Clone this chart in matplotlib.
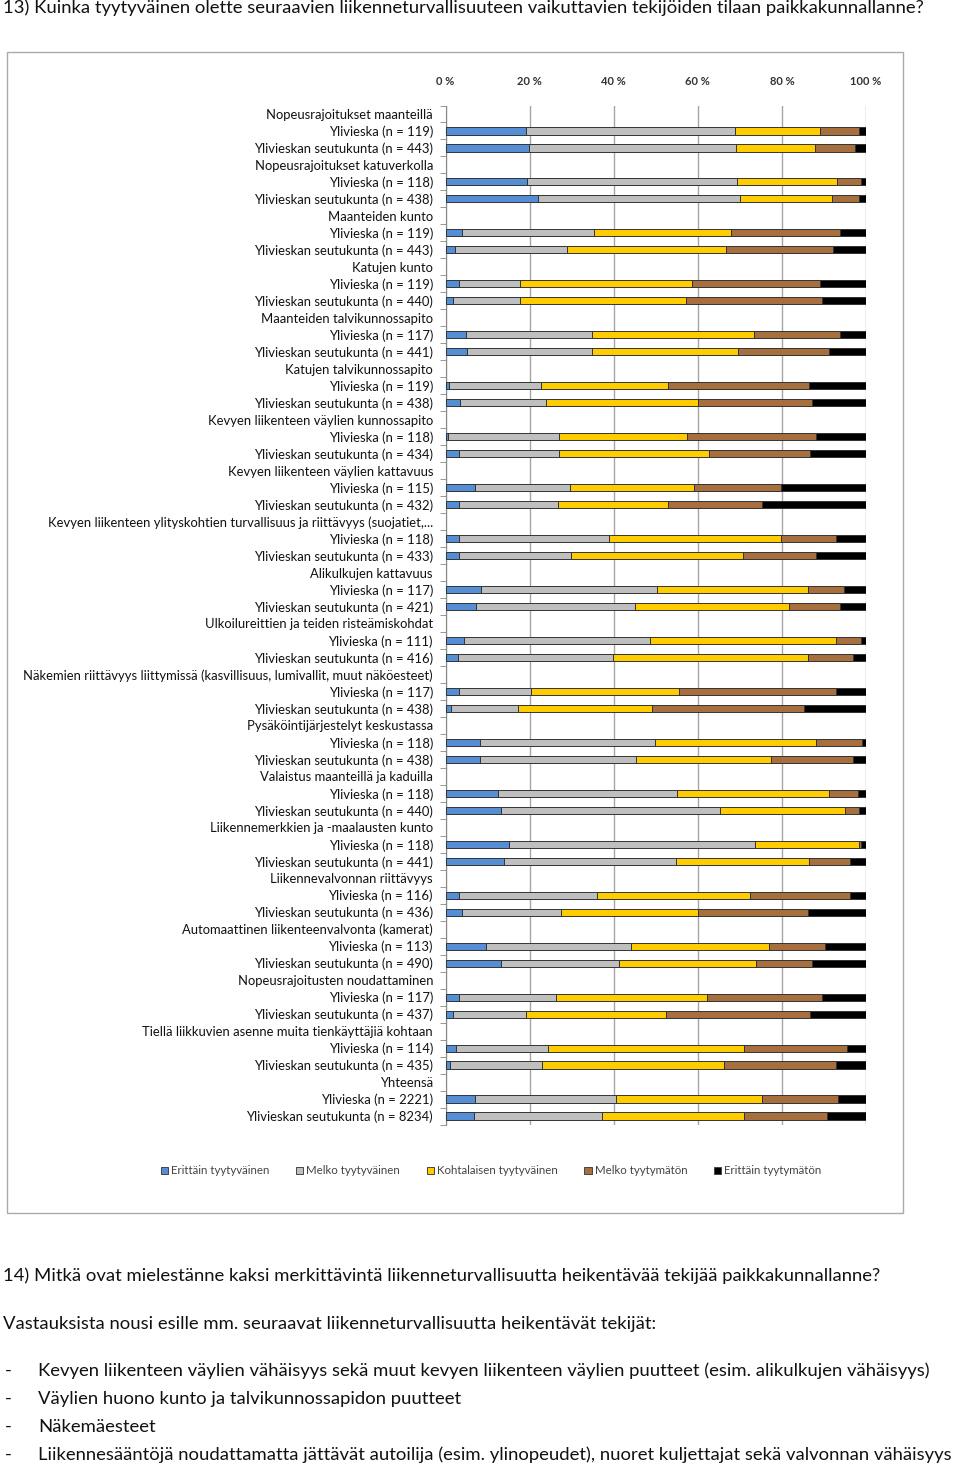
import numpy as np
import matplotlib
matplotlib.use('Agg')
import matplotlib.pyplot as plt
from matplotlib.patches import Patch, Rectangle

plt.rcParams['font.family'] = ['Lato', 'DejaVu Sans']

categories = [
    'Nopeusrajoitukset maanteillä',
    'Nopeusrajoitukset katuverkolla',
    'Maanteiden kunto',
    'Katujen kunto',
    'Maanteiden talvikunnossapito',
    'Katujen talvikunnossapito',
    'Kevyen liikenteen väylien kunnossapito',
    'Kevyen liikenteen väylien kattavuus',
    'Kevyen liikenteen ylityskohtien turvallisuus ja riittävyys (suojatiet,...',
    'Alikulkujen kattavuus',
    'Ulkoilureittien ja teiden risteämiskohdat',
    'Näkemien riittävyys liittymissä (kasvillisuus, lumivallit, muut näköesteet)',
    'Pysäköintijärjestelyt keskustassa',
    'Valaistus maanteillä ja kaduilla',
    'Liikennemerkkien ja -maalausten kunto',
    'Liikennevalvonnan riittävyys',
    'Automaattinen liikenteenvalvonta (kamerat)',
    'Nopeusrajoitusten noudattaminen',
    'Tiellä liikkuvien asenne muita tienkäyttäjiä kohtaan',
    'Yhteensä',
]
n_ylivieska = [119, 118, 119, 119, 117, 119, 118, 115, 118, 117,
               111, 117, 118, 118, 118, 116, 113, 117, 114, 2221]
n_seutukunta = [443, 438, 443, 440, 441, 438, 434, 432, 433, 421,
                416, 438, 438, 440, 441, 436, 490, 437, 435, 8234]

series_names = ['Erittäin tyytyväinen', 'Melko tyytyväinen', 'Kohtalaisen tyytyväinen',
                'Melko tyytymätön', 'Erittäin tyytymätön']
colors = ['#558ED5', '#BFBFBF', '#FFCC00', '#A86F3E', '#000000']

# Ylivieska, % per category
erittain_tyyt_yv = [19.2, 19.4, 4.0, 3.1, 4.9, 0.8, 0.7, 6.9, 3.3, 8.5,
                    4.3, 3.3, 8.3, 12.6, 15.0, 3.3, 9.6, 3.3, 2.5, 7.1]
melko_tyyt_yv = [49.6, 50.0, 31.3, 14.5, 29.9, 21.8, 26.3, 22.7, 35.5, 41.8,
                 44.3, 17.1, 41.6, 42.4, 58.7, 32.8, 34.6, 23.0, 21.9, 33.5]
kohtalainen_yv = [20.2, 23.8, 32.7, 41.1, 38.5, 30.4, 30.5, 29.5, 40.9, 36.0,
                  44.2, 35.2, 38.1, 36.3, 24.6, 36.2, 32.8, 36.0, 46.6, 34.6]
melko_tyytym_yv = [9.3, 5.7, 25.9, 30.3, 20.4, 33.4, 30.6, 20.7, 13.2, 8.5,
                   6.1, 37.3, 11.0, 6.8, 0.5, 24.0, 13.2, 27.3, 24.6, 18.2]
erittain_tyytym_yv = [1.7, 1.1, 6.1, 11.0, 6.3, 13.6, 11.9, 20.2, 7.1, 5.2,
                      1.1, 7.1, 1.0, 1.9, 1.2, 3.7, 9.8, 10.4, 4.4, 6.6]

# Ylivieskan seutukunta, % per category
erittain_tyyt_sk = [19.9, 22.1, 2.3, 1.9, 5.2, 3.5, 3.1, 3.3, 3.1, 7.2,
                    2.9, 1.2, 8.1, 13.1, 14.0, 4.0, 13.3, 1.7, 1.1, 6.8]
melko_tyyt_sk = [49.3, 47.9, 26.7, 15.7, 29.6, 20.3, 24.0, 23.4, 26.8, 37.8,
                 36.9, 16.1, 37.3, 52.1, 40.9, 23.4, 27.9, 17.5, 21.8, 30.5]
kohtalainen_sk = [18.6, 22.0, 37.7, 39.7, 34.8, 36.3, 35.6, 26.3, 40.9, 36.7,
                  46.5, 31.9, 32.1, 29.9, 31.6, 32.7, 32.7, 33.3, 43.3, 33.7]
melko_tyytym_sk = [9.7, 6.3, 25.4, 32.3, 21.6, 27.0, 23.9, 22.3, 17.3, 12.2,
                   10.6, 36.0, 19.4, 3.2, 9.8, 26.2, 13.3, 34.1, 26.7, 19.7]
erittain_tyytym_sk = [2.5, 1.7, 7.9, 10.4, 8.8, 12.9, 13.4, 24.7, 11.9, 6.1,
                      3.1, 14.8, 3.1, 1.7, 3.7, 13.7, 12.8, 13.4, 7.1, 9.3]

xticklabels = ['0 %', '20 %', '40 %', '60 %', '80 %', '100 %']

yv = [erittain_tyyt_yv, melko_tyyt_yv, kohtalainen_yv, melko_tyytym_yv, erittain_tyytym_yv]
sk = [erittain_tyyt_sk, melko_tyyt_sk, kohtalainen_sk, melko_tyytym_sk, erittain_tyytym_sk]

# rows: header, Ylivieska, seutukunta for every category
labels = []
for c, a, b in zip(categories, n_ylivieska, n_seutukunta):
    labels += [c, f'Ylivieska (n = {a})', f'Ylivieskan seutukunta (n = {b})']
nrows = len(labels)
pos_yv = np.arange(len(categories)) * 3 + 1
pos_sk = np.arange(len(categories)) * 3 + 2

fig = plt.figure(figsize=(9.6, 14.67), dpi=100)
ax = fig.add_axes([445.5 / 960, 1 - 1124.5 / 1467, 420.5 / 960, 1019 / 1467])

for pos, data in ((pos_yv, yv), (pos_sk, sk)):
    left = np.zeros(len(categories))
    for vals, col in zip(data, colors):
        v = np.array(vals)
        ax.barh(pos, v, left=left, height=0.42, color=col,
                edgecolor='#333333', linewidth=0.7, zorder=3)
        left += v

ax.set_xlim(0, 100)
ax.set_ylim(nrows - 0.5, -0.5)
ax.set_xticks([0, 20, 40, 60, 80, 100])
ax.set_xticklabels(xticklabels, fontsize=8, fontweight='bold', color='#333333')
ax.xaxis.tick_top()
ax.tick_params(axis='x', length=0, pad=13)
ax.grid(axis='x', color='#A6A6A6', linewidth=1.0, zorder=0)

ax.set_yticks(np.arange(nrows))
ax.set_yticklabels(labels, fontsize=9.4, color='#111111')
ax.set_yticks(np.arange(nrows + 1) - 0.5, minor=True)
ax.tick_params(axis='y', which='major', length=0, pad=9)
ax.tick_params(axis='y', which='minor', length=4, color='#888888', direction='out')
for s in ['top', 'right', 'bottom']:
    ax.spines[s].set_visible(False)
ax.spines['left'].set_color('#888888')

handles = [Patch(facecolor=c, edgecolor='#444444', linewidth=0.7) for c in colors]
fig.legend(handles, series_names, ncol=5, loc='center',
           bbox_to_anchor=(491 / 960, 1 - 1171 / 1467), frameon=False,
           fontsize=8.3, handlelength=0.65, handleheight=0.65,
           handletextpad=0.25, columnspacing=2.3, labelcolor='#444444')

fig.patches.append(Rectangle((7 / 960, 1 - 1213 / 1467), 896 / 960, 1161 / 1467,
                             transform=fig.transFigure, fill=False,
                             edgecolor='#AAAAAA', linewidth=1.0))

txt = dict(fontsize=13.3, color='#111111', va='center', ha='left')
fig.text(3 / 960, 1 - 8 / 1467,
         '13) Kuinka tyytyväinen olette seuraavien liikenneturvallisuuteen vaikuttavien tekijöiden tilaan paikkakunnallanne?', **txt)
fig.text(3 / 960, 1 - 1276 / 1467,
         '14) Mitkä ovat mielestänne kaksi merkittävintä liikenneturvallisuutta heikentävää tekijää paikkakunnallanne?', **txt)
fig.text(3 / 960, 1 - 1324 / 1467,
         'Vastauksista nousi esille mm. seuraavat liikenneturvallisuutta heikentävät tekijät:', **txt)
bullets = [
    'Kevyen liikenteen väylien vähäisyys sekä muut kevyen liikenteen väylien puutteet (esim. alikulkujen vähäisyys)',
    'Väylien huono kunto ja talvikunnossapidon puutteet',
    'Näkemäesteet',
    'Liikennesääntöjä noudattamatta jättävät autoilija (esim. ylinopeudet), nuoret kuljettajat sekä valvonnan vähäisyys',
]
for i, b in enumerate(bullets):
    y = 1 - (1371 + i * 28) / 1467
    fig.text(5 / 960, y, '-', **txt)
    fig.text(38 / 960, y, b, **txt)

fig.savefig('out.png', dpi=100)
